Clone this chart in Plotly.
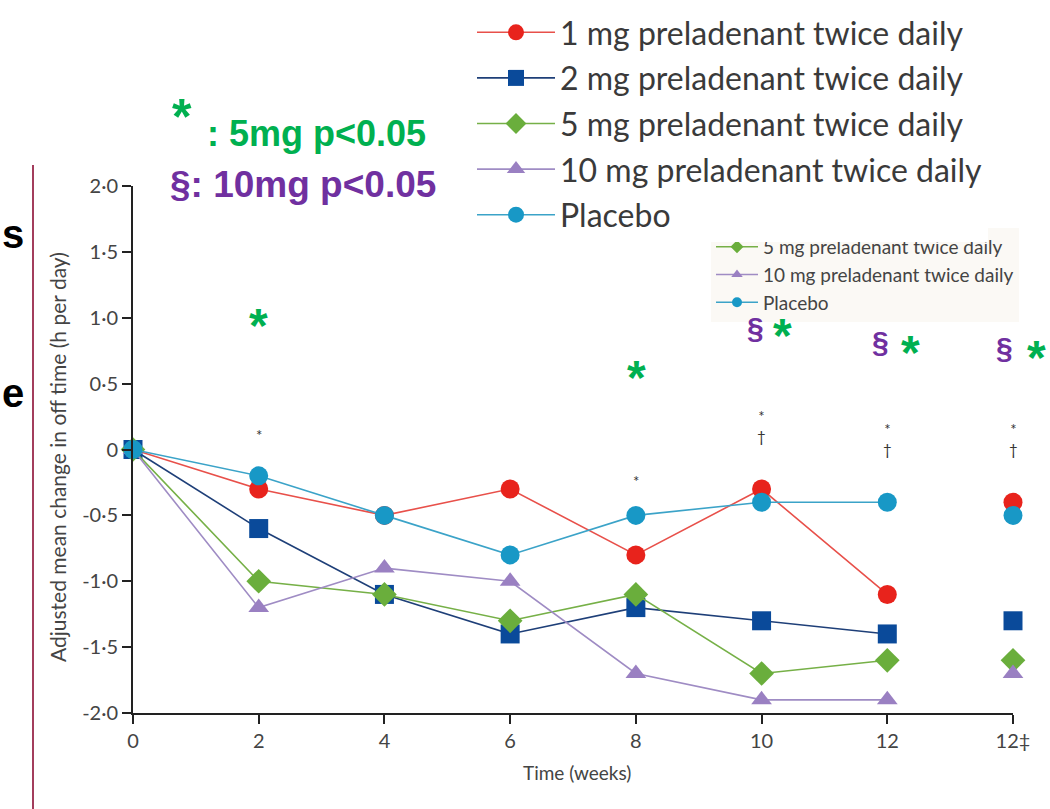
import plotly.graph_objects as go

weeks = ["0", "2", "4", "6", "8", "10", "12", "12‡"]
series_names = ["1 mg preladenant twice daily", "2 mg preladenant twice daily",
                "5 mg preladenant twice daily", "10 mg preladenant twice daily", "Placebo"]
mg1 = [0, -0.3, -0.5, -0.3, -0.8, -0.3, -1.1, -0.4]
mg2 = [0, -0.6, -1.1, -1.4, -1.2, -1.3, -1.4, -1.3]
mg5 = [0, -1.0, -1.1, -1.3, -1.1, -1.7, -1.6, -1.6]
mg10 = [0, -1.2, -0.9, -1.0, -1.7, -1.9, -1.9, -1.7]
placebo = [0, -0.2, -0.5, -0.8, -0.5, -0.4, -0.4, -0.5]
ytick_vals = [2, 1.5, 1, 0.5, 0, -0.5, -1, -1.5, -2]
ytick_text = ["2·0", "1·5", "1·0", "0·5", "0", "-0·5", "-1·0", "-1·5", "-2·0"]

colors = ["#e8231c", "#0a4a9a", "#6aae3c", "#9a80c2", "#1898c6"]
line_colors = ["#e8504a", "#1e3f78", "#76b047", "#9f8cc4", "#3ba3c8"]
symbols = ["circle", "square", "diamond", "triangle-up", "circle"]
sizes = [19, 19, 19, 18, 19]
all_series = [mg1, mg2, mg5, mg10, placebo]

FONT = "Lato, Open Sans, sans-serif"
BOLD = "Arial, Liberation Sans, sans-serif"
fig = go.Figure()
xs = list(range(len(weeks)))

# remnant of the original small legend (partly hidden by the large one) -> drawn first
for idx in [2, 3, 4]:
    fig.add_trace(go.Scatter(
        x=[None], y=[None], name=series_names[idx], mode="lines+markers",
        line=dict(color=line_colors[idx], width=1.5),
        marker=dict(color=colors[idx], symbol=symbols[idx], size=10),
        legend="legend"))

for i, (name, vals, c, lc, sym, sz) in enumerate(zip(series_names, all_series, colors, line_colors, symbols, sizes)):
    fig.add_trace(go.Scatter(
        x=xs[:7], y=vals[:7], name=name, mode="lines+markers",
        line=dict(color=lc, width=1.6), legendgroup=f"g{i}",
        marker=dict(color=c, symbol=sym, size=sz, line=dict(width=0)),
        cliponaxis=False, legend="legend2"))
    fig.add_trace(go.Scatter(
        x=[xs[7]], y=[vals[7]], mode="markers", showlegend=False, legendgroup=f"g{i}",
        marker=dict(color=c, symbol=sym, size=sz, line=dict(width=0)),
        cliponaxis=False, legend="legend2"))

W, H = 1050, 809
L, R, T, B = 133, 1013, 186, 713
fig.update_layout(
    width=W, height=H,
    margin=dict(l=L, r=W - R, t=T, b=H - B, autoexpand=False),
    paper_bgcolor="white", plot_bgcolor="white",
    font=dict(family=FONT, color="#444"),
    xaxis=dict(range=[0, 7], tickvals=xs, ticktext=weeks, showgrid=False, zeroline=False,
               showline=True, linecolor="#222", linewidth=2, ticks="outside", ticklen=9,
               tickwidth=1.5, tickcolor="#222", tickfont=dict(size=20, color="#444", family=FONT)),
    yaxis=dict(range=[-2, 2], tickvals=ytick_vals, ticktext=ytick_text, showgrid=False,
               zeroline=False, showline=True, linecolor="#222", linewidth=2, ticks="outside",
               ticklen=9, tickwidth=1.5, tickcolor="#222", tickfont=dict(size=20, color="#444", family=FONT)),
    legend=dict(xref="container", yref="container", x=711 / W, y=1 - 228 / H,
                xanchor="left", yanchor="top", bgcolor="#fbf9f5",
                font=dict(size=19, color="#444", family=FONT), itemwidth=42),
    legend2=dict(xref="container", yref="container", x=472 / W, y=1 - 5 / H,
                 xanchor="left", yanchor="top", bgcolor="white",
                 font=dict(size=32, color="#3a3a3a", family=FONT), itemwidth=78,
                 tracegroupgap=1),
    showlegend=True,
)

def px(x):
    return (x - L) / (R - L)

def py(y):
    return (B - y) / (B - T)

def note(x, y, text, size, color, family=BOLD, xanchor="center", angle=0):
    return dict(x=px(x), y=py(y), xref="paper", yref="paper", text=text, showarrow=False,
                xanchor=xanchor, yanchor="middle", textangle=angle,
                font=dict(size=size, color=color, family=family))

ann = []
# axis titles
ann.append(note(58, 457, "Adjusted mean change in off time (h per day)", 21, "#444", FONT, angle=-90))
ann.append(note(577, 772, "Time (weeks)", 19, "#444", FONT))
# small significance marks from the original figure
small_marks = [(1, 0.03, "*"), (4, -0.32, "*"), (5, 0.02, "*<br>†"), (6, -0.08, "*<br>†"), (7, -0.08, "*<br>†")]
for xi, yv, t in small_marks:
    ann.append(dict(x=xi, y=yv, xref="x", yref="y", text=t, showarrow=False,
                    font=dict(size=15, color="#333"), yanchor="bottom"))
GREEN, PURPLE = "#00b050", "#7030a0"
stars = [(258, 325), (636, 377), (782, 335), (910, 352), (1036, 357)]
for xv, yv in stars:
    ann.append(note(xv, yv, "<b>*</b>", 48, GREEN))
sects = [(755, 327), (880, 341), (1004, 347)]
for xv, yv in sects:
    ann.append(note(xv, yv, "<b>§</b>", 30, PURPLE))
# key text
ann.append(note(182, 117, "<b>*</b>", 50, GREEN))
ann.append(note(205, 133, "<b>: 5mg p<0.05</b>", 36, GREEN, xanchor="left"))
ann.append(note(168, 185, "<b>§: 10mg p<0.05</b>", 37, PURPLE, xanchor="left"))
# letters of the slide text at the left edge
ann.append(note(0, 234, "<b>s</b>", 40, "black", xanchor="left"))
ann.append(note(0, 393, "<b>e</b>", 40, "black", xanchor="left"))
fig.update_layout(annotations=ann)

fig.add_shape(type="line", xref="paper", yref="paper", x0=px(33), x1=px(33), y0=py(165), y1=py(809),
              line=dict(color="#a33d5c", width=2))

fig.write_html("out.html")
